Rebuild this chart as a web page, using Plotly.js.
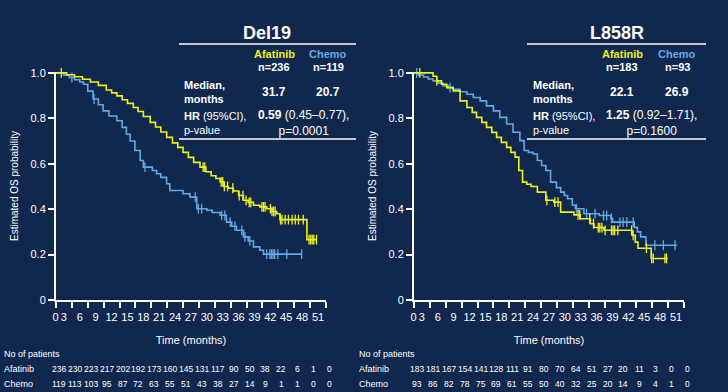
<!DOCTYPE html>
<html>
<head>
<meta charset="utf-8">
<script src="https://cdn.plot.ly/plotly-3.0.1.min.js"></script>
<style>html,body{margin:0;padding:0;background:#11284e;}#chart{width:728px;height:392px;}</style>
</head>
<body>
<div id="chart"></div>
<script>
// ---------------- DATA ----------------
const xTickVals = [0,3,6,9,12,15,18,21,24,27,30,33,36,39,42,45,48,51];
const xTickLabels = ['0','3','6','9','12','15','18','21','24','27','30','33','36','39','42','45','48','51'];
const yTickVals = [0,0.2,0.4,0.6,0.8,1.0];
const yTickLabels = ['0','0.2','0.4','0.6','0.8','1.0'];

// Del19 – Afatinib KM steps
const delAfaT = [0,2,3.5,5,6.5,8,9.5,10.5,11.5,12.5,13.5,14.6,15.5,16.5,17.8,18.8,19.8,20.9,22,23,24,25,26,27.2,28.3,29.3,30.2,31,31.7,32.5,33.5,34.5,35.4,36.3,37.3,38.5,39.8,40.8,41.7,42.3,47.4,49.2];
const delAfaS = [1,0.992,0.983,0.972,0.96,0.945,0.925,0.912,0.899,0.882,0.866,0.848,0.83,0.808,0.782,0.762,0.74,0.716,0.692,0.672,0.65,0.628,0.606,0.585,0.565,0.547,0.535,0.52,0.5,0.492,0.48,0.46,0.439,0.43,0.417,0.41,0.402,0.39,0.38,0.354,0.266,0.266];
const delAfaCens = [1.0,27.8,28.1,31.2,31.5,31.8,32.4,33.4,34.6,35.3,35.9,36.5,36.8,38.9,39.2,39.5,40.5,40.8,41.1,41.4,42.4,42.7,43.3,43.9,44.6,45.2,45.8,46.7,47.8,48.1,48.4,48.7,49.2];

// Del19 – Chemo KM steps
const delChemoT = [0,1.5,2.5,3.5,4.5,5.2,6,7,8,8.9,10,11.5,12.5,13.3,14,14.9,15.9,16.5,18.2,19,19.8,20.9,21.5,24,25.3,26.6,28.5,29.5,31,32.2,33.2,34.1,35.4,36.3,37.3,38.5,39.2,46.4];
const delChemoS = [1,0.99,0.98,0.97,0.96,0.95,0.92,0.885,0.86,0.833,0.81,0.789,0.76,0.73,0.7,0.658,0.614,0.585,0.57,0.556,0.54,0.512,0.482,0.468,0.453,0.402,0.395,0.385,0.373,0.343,0.325,0.307,0.278,0.26,0.234,0.219,0.202,0.202];
const delChemoCens = [3.0,7.2,16.8,26.3,26.9,27.5,31.3,31.9,32.9,33.8,35.1,35.7,36.6,39.8,40.4,40.7,41.0,41.3,41.9,43.6,46.4];

// L858R – Afatinib KM steps
const l8AfaT = [0,3.6,4.3,5.2,6.2,7.4,8.7,10,11,11.8,12.8,13.7,14.7,15.6,16.5,17.5,18.3,19.1,19.8,20.5,21.3,22.1,23.3,24.9,26.4,27.7,30.2,31.4,33.3,34,35.9,41.2,41.8,42.3,44.8,47.9];
const l8AfaS = [1,0.985,0.965,0.95,0.935,0.921,0.877,0.848,0.826,0.804,0.782,0.76,0.738,0.716,0.694,0.672,0.65,0.629,0.57,0.519,0.51,0.5,0.475,0.439,0.431,0.387,0.375,0.358,0.336,0.319,0.307,0.285,0.255,0.228,0.183,0.183];
const l8AfaCens = [1.1,4.3,25.1,26.6,27.2,31.0,31.3,33.2,33.9,34.8,35.1,35.5,36.1,37.3,37.6,37.9,38.5,41.1,41.4,43.9,44.9,45.2,47.4,47.7];

// L858R – Chemo KM steps
const l8ChemoT = [0,0.8,1.8,2.7,3.6,4.5,5.5,6.5,7.4,8.7,10,11.2,12.5,13.7,15,16.2,17.5,18.7,20,20.8,21.6,22.5,23.3,24.1,24.9,25.8,26.9,27.7,28.4,29,29.9,30.5,32.1,35,37.2,37.5,41.6,42.2,42.8,43.8,49.7];
const l8ChemoS = [1,0.991,0.982,0.973,0.965,0.955,0.943,0.935,0.928,0.917,0.906,0.892,0.877,0.855,0.833,0.804,0.775,0.739,0.702,0.658,0.65,0.643,0.614,0.592,0.57,0.519,0.495,0.475,0.46,0.446,0.417,0.402,0.38,0.372,0.36,0.343,0.32,0.3,0.278,0.241,0.241];
const l8ChemoCens = [0.5,6.8,30.7,32.6,34.2,35.8,36.4,37.3,38.9,39.5,40.2,41.4,43.9,45.5,47.1,49.3];

// Numbers at risk (at months 0,3,...,51)
const riskTimes = [0,3,6,9,12,15,18,21,24,27,30,33,36,39,42,45,48,51];
const delAfaRisk = [236,230,223,217,202,192,173,160,145,131,117,90,50,38,22,6,1,0];
const delChemoRisk = [119,113,103,95,87,72,63,55,51,43,38,27,14,9,1,1,0,0];
const l8AfaRisk = [183,181,167,154,141,128,111,91,80,70,64,51,27,20,11,3,0,0];
const l8ChemoRisk = [93,86,82,78,75,69,61,55,50,40,32,25,20,14,9,4,1,0];

// Header table text
const panelTitles = ['Del19','L858R'];
const armNames = ['Afatinib','Chemo'];
const nLeft = ['n=236','n=119'];
const nRight = ['n=183','n=93'];
const medLeft = ['31.7','20.7'];
const medRight = ['22.1','26.9'];
const hrLeft = ['0.59','(0.45–0.77),','p=0.0001'];
const hrRight = ['1.25','(0.92–1.71),','p=0.1600'];

// ---------------- STYLE ----------------
const W = 728, H = 392;
const BG = '#11284e';
const YEL = '#eef01c';
const BLU = '#62a8e6';
const WHITE = '#ffffff';
const FONT = 'Liberation Sans, Arial, Helvetica, sans-serif';
const PX = x => x / W;
const PY = y => 1 - y / H;

function stepAt(ts, ss, t) {
  let s = ss[0];
  for (let i = 0; i < ts.length; i++) { if (ts[i] <= t) s = ss[i]; }
  return s;
}

function kmTraces(ts, ss, cens, color, xa, ya) {
  return [
    {x: ts, y: ss, type: 'scatter', mode: 'lines', line: {shape: 'hv', color: color, width: 1.6},
     xaxis: xa, yaxis: ya, hoverinfo: 'skip', showlegend: false},
    {x: cens, y: cens.map(t => stepAt(ts, ss, t)), type: 'scatter', mode: 'markers',
     marker: {symbol: 'line-ns', size: 7, line: {width: 1.3, color: color}, color: color},
     xaxis: xa, yaxis: ya, hoverinfo: 'skip', showlegend: false, cliponaxis: false}
  ];
}

const traces = [
  ...kmTraces(delChemoT, delChemoS, delChemoCens, BLU, 'x', 'y'),
  ...kmTraces(delAfaT, delAfaS, delAfaCens, YEL, 'x', 'y'),
  ...kmTraces(l8ChemoT, l8ChemoS, l8ChemoCens, BLU, 'x2', 'y2'),
  ...kmTraces(l8AfaT, l8AfaS, l8AfaCens, YEL, 'x2', 'y2')
];

const shownXTicks = xTickLabels.map((s, i) => i === 0 ? '\u00a0\u00a0\u00a0\u00a0\u00a0' + s : s);

function xAxis(dom, anchor) {
  return {
    domain: dom, anchor: anchor, range: [0, 51], tickmode: 'array', tickvals: xTickVals, ticktext: shownXTicks,
    showline: true, linecolor: WHITE, linewidth: 2, ticks: 'outside', ticklen: 6, tickwidth: 2, tickcolor: WHITE,
    tickfont: {family: FONT, size: 11, color: WHITE}, ticklabelshift: -8, tickangle: 0,
    showgrid: false, zeroline: false, fixedrange: true,
    title: {text: 'Time (months)', font: {family: FONT, size: 11, color: WHITE}, standoff: 14}
  };
}
function yAxis(anchor) {
  return {
    domain: [PY(300), PY(72)], anchor: anchor, range: [0, 1.004], tickmode: 'array', tickvals: yTickVals, ticktext: yTickLabels,
    showline: true, linecolor: WHITE, linewidth: 2, ticks: 'outside', ticklen: 6, tickwidth: 2, tickcolor: WHITE,
    tickfont: {family: FONT, size: 11, color: WHITE},
    showgrid: false, zeroline: false, fixedrange: true,
    title: {text: 'Estimated OS probability', font: {family: FONT, size: 10, color: WHITE}, standoff: 10}
  };
}

const ann = [];
function txt(text, x, y, opts) {
  ann.push(Object.assign({text: text, x: PX(x), y: PY(y), xref: 'paper', yref: 'paper', showarrow: false,
    xanchor: 'center', yanchor: 'middle', font: {family: FONT, size: 11, color: WHITE}}, opts || {}));
}

// Header tables
function header(title, cx, colA, colB, lx, hrx, ns, meds, hr) {
  txt('<b>' + title + '</b>', cx, 33, {font: {family: FONT, size: 18, color: WHITE}});
  txt('<b>' + armNames[0] + '</b>', colA, 54, {font: {family: FONT, size: 11, color: YEL}});
  txt('<b>' + armNames[1] + '</b>', colB, 54, {font: {family: FONT, size: 11, color: BLU}});
  txt('<b>' + ns[0] + '</b>', colA, 67);
  txt('<b>' + ns[1] + '</b>', colB, 67);
  txt('<b>Median,<br>months</b>', lx, 92, {xanchor: 'left', align: 'left'});
  txt('<b>' + meds[0] + '</b>', colA, 92, {font: {family: FONT, size: 12, color: WHITE}});
  txt('<b>' + meds[1] + '</b>', colB, 92, {font: {family: FONT, size: 12, color: WHITE}});
  txt('<b>HR</b> (95%CI),<br>p-value', lx, 123, {xanchor: 'left', align: 'left'});
  txt('<b>' + hr[0] + '</b> ' + hr[1] + '<br>' + hr[2], hrx, 123, {font: {family: FONT, size: 12, color: WHITE}});
}
header(panelTitles[0], 267, 274, 328, 182, 303, nLeft, medLeft, hrLeft);
header(panelTitles[1], 617, 622, 677, 531, 651, nRight, medRight, hrRight);

// Numbers at risk
function riskRows(lx, xref, afa, chemo) {
  txt('No of patients', lx, 354, {xanchor: 'left', font: {family: FONT, size: 9, color: WHITE}});
  txt(armNames[0], lx, 369, {xanchor: 'left', font: {family: FONT, size: 9, color: WHITE}});
  txt(armNames[1], lx, 384, {xanchor: 'left', font: {family: FONT, size: 9, color: WHITE}});
  riskTimes.forEach((t, i) => {
    ann.push({text: String(afa[i]), x: t, xref: xref, y: PY(369), yref: 'paper', showarrow: false, xshift: 3,
      xanchor: 'center', yanchor: 'middle', font: {family: FONT, size: 8.5, color: WHITE}});
    ann.push({text: String(chemo[i]), x: t, xref: xref, y: PY(384), yref: 'paper', showarrow: false, xshift: 3,
      xanchor: 'center', yanchor: 'middle', font: {family: FONT, size: 8.5, color: WHITE}});
  });
}
riskRows(2, 'x', delAfaRisk, delChemoRisk);
riskRows(357, 'x2', l8AfaRisk, l8ChemoRisk);

const lineStyle = {color: WHITE, width: 1.5};
const shapes = [
  {type: 'line', xref: 'paper', yref: 'paper', x0: PX(179), x1: PX(356), y0: PY(44), y1: PY(44), line: lineStyle},
  {type: 'line', xref: 'paper', yref: 'paper', x0: PX(179), x1: PX(356), y0: PY(139), y1: PY(139), line: lineStyle},
  {type: 'line', xref: 'paper', yref: 'paper', x0: PX(527), x1: PX(706), y0: PY(44), y1: PY(44), line: lineStyle},
  {type: 'line', xref: 'paper', yref: 'paper', x0: PX(527), x1: PX(706), y0: PY(139), y1: PY(139), line: lineStyle}
];

const layout = {
  width: W, height: H, margin: {l: 0, r: 0, t: 0, b: 0},
  paper_bgcolor: BG, plot_bgcolor: BG,
  font: {family: FONT, color: WHITE},
  showlegend: false,
  xaxis: xAxis([PX(56), PX(326)], 'y'),
  yaxis: yAxis('x'),
  xaxis2: xAxis([PX(414), PX(684)], 'y2'),
  yaxis2: yAxis('x2'),
  annotations: ann,
  shapes: shapes
};

Plotly.newPlot('chart', traces, layout, {displayModeBar: false, staticPlot: true});
</script>
</body>
</html>
